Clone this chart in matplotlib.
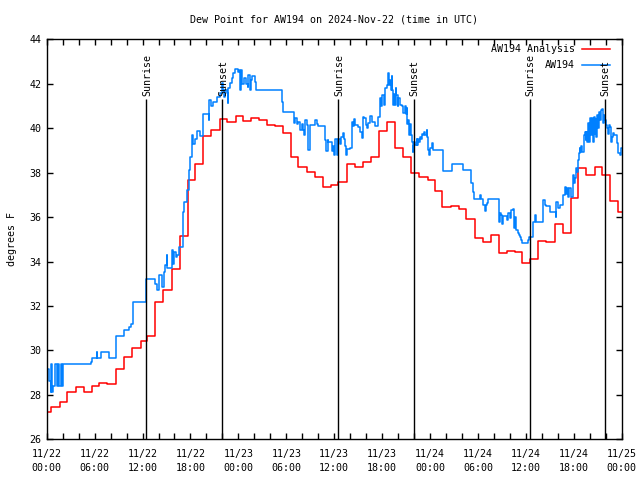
import matplotlib
matplotlib.use("Agg")
import matplotlib.pyplot as plt
from matplotlib.ticker import MultipleLocator

# hours since 2024-11-22 00:00 UTC
analysis_t = [0.0, 0.58, 1.66, 2.58, 3.63, 4.67, 5.71, 6.55, 7.58, 8.64, 9.67, 10.71,
              11.76, 12.52, 13.6, 14.6, 15.7, 16.7, 17.7, 18.6, 19.6, 20.6, 21.7, 22.6,
              23.69, 24.6, 25.57, 26.6, 27.6, 28.57, 29.6, 30.58, 31.49, 32.54, 33.58,
              34.62, 35.58, 36.5, 37.55, 38.59, 39.62, 40.59, 41.59, 42.55, 43.59, 44.56,
              45.59, 46.63, 47.76, 48.6, 49.56, 50.6, 51.6, 52.48, 53.6, 54.64, 55.6,
              56.61, 57.65, 58.61, 59.57, 60.58, 61.58, 62.58, 63.62, 64.66, 65.62,
              66.53, 67.5, 68.62, 69.59, 70.59, 71.59, 72.0]
analysis_v = [27.24, 27.44, 27.67, 28.12, 28.37, 28.12, 28.41, 28.52, 28.47, 29.15, 29.69,
              30.10, 30.44, 30.66, 32.2, 32.7, 33.65, 35.15, 37.67, 38.39, 39.65, 39.93,
              40.4, 40.27, 40.56, 40.34, 40.47, 40.36, 40.16, 40.12, 39.77, 38.72, 38.27,
              38.04, 37.79, 37.34, 37.45, 37.57, 38.39, 38.24, 38.47, 38.72, 39.88, 40.29,
              39.1, 38.69, 37.97, 37.82, 37.67, 37.18, 36.47, 36.5, 36.35, 35.9, 35.05,
              34.89, 35.19, 34.4, 34.49, 34.45, 33.95, 34.11, 34.94, 34.89, 35.67, 35.3,
              36.85, 38.2, 37.9, 38.27, 37.9, 36.73, 36.24, 36.24]

obs_t = [0.0, 0.33, 0.5, 0.58, 0.63, 0.79, 1.04, 1.25, 1.45, 1.6, 1.76, 1.91, 2.08,
         5.58, 5.67, 6.26, 6.3, 6.83, 7.8, 8.64, 9.67, 10.3, 10.59, 10.86, 12.39, 12.47,
         13.55, 13.84, 14.09, 14.43, 14.68, 14.87, 15.02, 15.12, 15.34, 15.68, 15.81,
         15.93, 16.18, 16.37, 16.6, 17.02, 17.22, 17.52, 17.81, 17.93, 18.22, 18.37,
         18.56, 18.77, 19.19, 19.6, 20.31, 20.35, 20.56, 20.81, 21.06, 21.28, 21.69,
         21.98, 22.1, 22.23, 22.32, 22.53, 22.69, 22.75, 22.94, 23.15, 23.35, 23.57,
         23.9, 24.07, 24.19, 24.32, 24.5, 24.73, 24.91, 25.16, 25.23, 25.44, 25.57,
         25.66, 26.07, 26.2, 29.41, 29.61, 30.99, 31.08, 31.29, 31.49, 31.7, 31.92,
         32.08, 32.24, 32.33, 32.54, 32.74, 32.95, 33.58, 33.79, 33.92, 34.83, 34.96,
         35.17, 35.24, 35.74, 35.87, 36.0, 36.08, 36.3, 36.42, 36.71, 36.83, 37.12,
         37.25, 37.34, 37.46, 37.58, 37.96, 38.17, 38.38, 38.5, 38.59, 39.0, 39.21,
         39.5, 39.62, 39.75, 39.92, 40.05, 40.17, 40.5, 40.68, 41.1, 41.51, 41.72,
         41.84, 42.03, 42.25, 42.34, 42.55, 42.75, 42.84, 42.96, 43.05, 43.18, 43.25,
         43.38, 43.5, 43.59, 43.68, 43.8, 43.93, 44.0, 44.21, 44.43, 44.63, 44.84,
         44.93, 45.06, 45.13, 45.26, 45.35, 45.47, 45.6, 45.68, 45.81, 45.88, 46.01,
         46.1, 46.31, 46.43, 46.51, 46.63, 46.72, 46.93, 47.0, 47.14, 47.26, 47.35,
         47.56, 47.68, 47.76, 47.85, 47.97, 48.19, 48.38, 49.64, 50.69, 52.14, 53.19,
         53.32, 53.48, 54.23, 54.36, 54.57, 54.9, 54.98, 55.14, 55.27, 56.65, 56.73,
         56.86, 56.98, 57.1, 57.65, 57.77, 57.99, 58.2, 58.36, 58.51, 58.63, 58.76,
         59.05, 59.16, 59.32, 59.45, 59.57, 60.28, 60.4, 60.9, 61.11, 61.33, 62.15,
         62.37, 62.58, 63.0, 63.74, 63.83, 64.03, 64.24, 64.66, 64.87, 65.08, 65.15,
         65.28, 65.41, 65.59, 65.84, 65.92, 66.0, 66.13, 66.25, 66.41, 66.54, 66.66,
         66.75, 66.83, 66.96, 67.08, 67.25, 67.37, 67.5, 67.58, 67.66, 67.79, 67.91,
         68.09, 68.21, 68.34, 68.41, 68.5, 68.62, 68.74, 68.83, 68.91, 69.04, 69.16,
         69.25, 69.37, 69.47, 69.59, 69.67, 69.79, 69.88, 70.0, 70.16, 70.29, 70.41,
         70.59, 70.71, 70.84, 70.92, 71.0, 71.34, 71.46, 71.54, 71.75, 71.87, 72.0]
obs_v = [29.15, 28.64, 28.12, 29.38, 28.12, 28.4, 29.38, 28.4, 29.38, 28.4, 29.38, 28.4,
         29.38, 29.49, 29.64, 29.93, 29.64, 29.93, 29.64, 30.65, 30.92, 31.07, 31.19,
         32.17, 32.64, 33.21, 32.99, 32.72, 33.4, 32.86, 33.55, 33.84, 34.3, 33.7, 33.7,
         34.5, 33.9, 34.45, 34.2, 34.3, 34.67, 36.24, 36.69, 37.22, 38.12, 38.72, 39.7,
         39.3, 39.5, 39.89, 39.65, 40.64, 40.37, 41.27, 41.0, 41.2, 41.19, 41.42, 41.57,
         42.02, 41.7, 41.42, 41.7, 41.57, 41.12, 41.8, 42.02, 42.25, 42.47, 42.65, 42.55,
         42.6, 41.7, 42.6, 42.0, 42.25, 42.0, 41.87, 42.4, 41.72, 42.15, 42.37, 42.1,
         41.72, 41.19, 40.74, 40.25, 40.45, 40.2, 40.3, 39.92, 40.2, 39.92, 39.7, 40.37,
         40.15, 39.02, 40.15, 40.37, 40.2, 40.1, 39.47, 38.97, 39.47, 39.38, 38.97, 39.2,
         38.8, 39.5, 38.8, 39.5, 39.3, 39.6, 39.77, 39.5, 39.2, 38.8, 39.05, 39.1, 40.29,
         40.1, 40.4, 40.15, 40.07, 39.85, 39.55, 40.52, 40.45, 40.15, 40.0, 40.25, 40.57,
         40.3, 40.1, 40.5, 41.35, 41.0, 41.5, 41.05, 41.8, 41.95, 42.47, 41.95, 42.15,
         41.7, 42.37, 41.7, 41.05, 41.55, 41.05, 41.8, 41.5, 41.0, 41.35, 41.05, 41.0,
         40.67, 41.0, 40.65, 40.9, 40.19, 40.35, 39.7, 40.2, 39.7, 39.4, 38.95, 39.2,
         39.4, 39.25, 39.5, 39.25, 39.5, 39.4, 39.62, 39.5, 39.75, 39.7, 39.82, 39.7,
         39.92, 39.6, 39.0, 38.8, 39.1, 39.33, 39.02, 38.08, 38.39, 38.1, 37.52, 37.14,
         36.8, 37.0, 36.8, 36.55, 36.29, 36.55, 36.65, 36.8, 35.8, 36.2, 36.1, 35.7,
         36.05, 35.87, 36.2, 35.95, 36.32, 36.35, 35.5, 36.0, 35.42, 35.27, 35.2, 35.12,
         34.97, 34.82, 34.97, 35.09, 35.8, 36.1, 35.8, 36.77, 36.55, 36.52, 36.24, 35.99,
         36.69, 36.4, 36.55, 36.99, 37.37, 37.05, 37.3, 36.9, 37.3, 36.9, 37.4, 37.9,
         37.55, 37.75, 38.2, 38.05, 38.57, 38.87, 39.1, 38.95, 39.2, 38.95, 39.7, 39.84,
         39.45, 39.84, 39.37, 40.22, 39.37, 40.45, 39.7, 40.45, 39.37, 40.5, 39.75, 40.4,
         39.6, 40.6, 40.0, 40.75, 40.37, 40.6, 40.82, 40.86, 40.22, 40.6, 40.37, 40.15,
         40.0, 39.75, 40.15, 40.07, 39.4, 39.6, 39.8, 39.7, 39.7, 39.33, 38.87, 38.8,
         39.13, 39.13]

sunrise_t = [12.47, 36.5, 60.5]
sunset_t = [21.98, 46.0, 69.9]

tick_hours = list(range(0, 73, 6))
tick_labels = ["11/22\n00:00", "11/22\n06:00", "11/22\n12:00", "11/22\n18:00",
               "11/23\n00:00", "11/23\n06:00", "11/23\n12:00", "11/23\n18:00",
               "11/24\n00:00", "11/24\n06:00", "11/24\n12:00", "11/24\n18:00",
               "11/25\n00:00"]

plt.rcParams["font.family"] = "DejaVu Sans Mono"
plt.rcParams["font.size"] = 7.2

fig = plt.figure(figsize=(6.4, 4.8), dpi=100)
ax = fig.add_axes([46.7 / 640, 40.7 / 480, 575 / 640, 400 / 480])

ax.plot(analysis_t, analysis_v, drawstyle="steps-post", color="#ff0000", lw=1.1)
ax.plot(obs_t, obs_v, drawstyle="steps-post", color="#0080ff", lw=1.1)

line_top = 41.3
for t in sunrise_t:
    ax.vlines(t, 26, line_top, color="black", lw=1)
    ax.text(t + 0.1, line_top + 0.15, "Sunrise", rotation=90, ha="center", va="bottom")
for t in sunset_t:
    ax.vlines(t, 26, line_top, color="black", lw=1)
    ax.text(t + 0.1, line_top + 0.15, "Sunset", rotation=90, ha="center", va="bottom")

# legend, gnuplot style (right aligned text, sample line on the right)
ax.text(0.919, 0.976, "AW194 Analysis", transform=ax.transAxes, ha="right", va="center")
ax.plot([0.931, 0.980], [0.976, 0.976], color="#ff0000", lw=1.1, transform=ax.transAxes)
ax.text(0.919, 0.936, "AW194", transform=ax.transAxes, ha="right", va="center")
ax.plot([0.931, 0.980], [0.936, 0.936], color="#0080ff", lw=1.1, transform=ax.transAxes)

ax.set_xlim(0, 72)
ax.set_ylim(26, 44)
ax.set_xticks(tick_hours, labels=tick_labels)
ax.xaxis.set_minor_locator(MultipleLocator(2))
ax.yaxis.set_major_locator(MultipleLocator(2))
ax.tick_params(which="both", direction="in", top=True, right=True, length=4, width=1,
               pad=7)
ax.tick_params(axis="y", pad=4)
for lbl in ax.get_xticklabels():
    lbl.set_linespacing(1.45)
for s in ax.spines.values():
    s.set_linewidth(1)

ax.set_ylabel("degrees F", labelpad=9)
ax.set_title("Dew Point for AW194 on 2024-Nov-22 (time in UTC)", fontsize=7.2, pad=12)

fig.savefig("out.png", dpi=100)
